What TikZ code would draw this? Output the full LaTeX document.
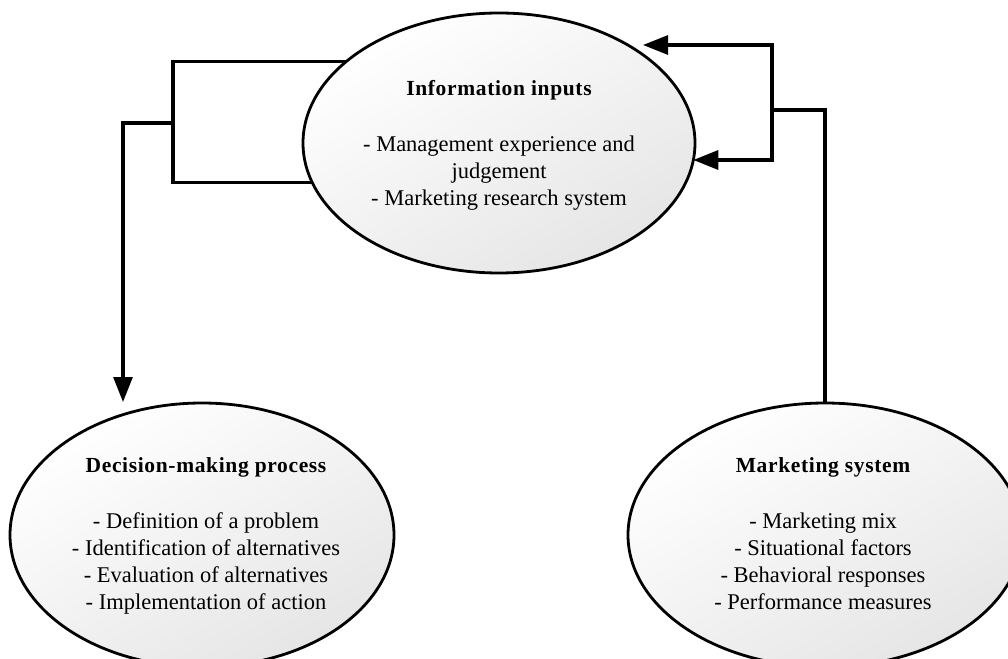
\documentclass[tikz,border=0pt]{standalone}
\usepackage{fontspec}
\setmainfont{Liberation Serif}
\newfontfamily\hdfont[LetterSpace=3]{Liberation Serif}
\newcommand\hd{\hdfont\bfseries\fontsize{21.5}{27.2}\selectfont}
\usetikzlibrary{shapes.geometric,arrows.meta}
\begin{document}
\begin{tikzpicture}[x=1pt,y=-1pt,
  oval/.style={ellipse, draw=black, line width=2.8pt, inner sep=0pt, outer sep=0pt,
    top color=white, bottom color=black!10, shading angle=30},
  body/.style={align=center, inner sep=0pt, anchor=north, text=black,
    font=\fontsize{22.5}{27.2}\selectfont},
  conn/.style={line width=3.1pt},
  arr/.style={conn, -{Triangle[length=25pt,width=19pt]}}]
\clip (0,0) rectangle (1008,658);
% ellipses
\node[oval, minimum width=392pt, minimum height=260pt] (info) at (499,143) {};
\node[oval, minimum width=384pt, minimum height=264pt] (dec) at (202,535) {};
\node[oval, minimum width=394pt, minimum height=264pt] (mkt) at (825,535) {};
% texts
\node[body] (infotext) at (499,80) {{\hd Information inputs}\\[28.5pt]- Management experience and\\judgement\\- Marketing research system};
\node[body] (dectext) at (206,457.5) {{\hd Decision-making process}\\[28.5pt]- Definition of a problem\\- Identification of alternatives\\- Evaluation of alternatives\\- Implementation of action};
\node[body] (mkttext) at (823,457.5) {{\hd Marketing system}\\[28.5pt]- Marketing mix\\- Situational factors\\- Behavioral responses\\- Performance measures};
% junctions and free ends
\coordinate (j1) at (173,123);
\coordinate (a1) at (123,402);
\coordinate (j2) at (772,110);
\coordinate (t1) at (643,45);
% left bracket
\draw[conn] (info.152.15) -| (j1) |- (info.192.1);
\draw[arr] (j1) -| (a1);
% right bracket
\draw[arr] (j2) |- (t1);
\draw[arr] (j2) |- (info.-5);
\draw[conn] (j2) -| (mkt.north);
\end{tikzpicture}
\end{document}
